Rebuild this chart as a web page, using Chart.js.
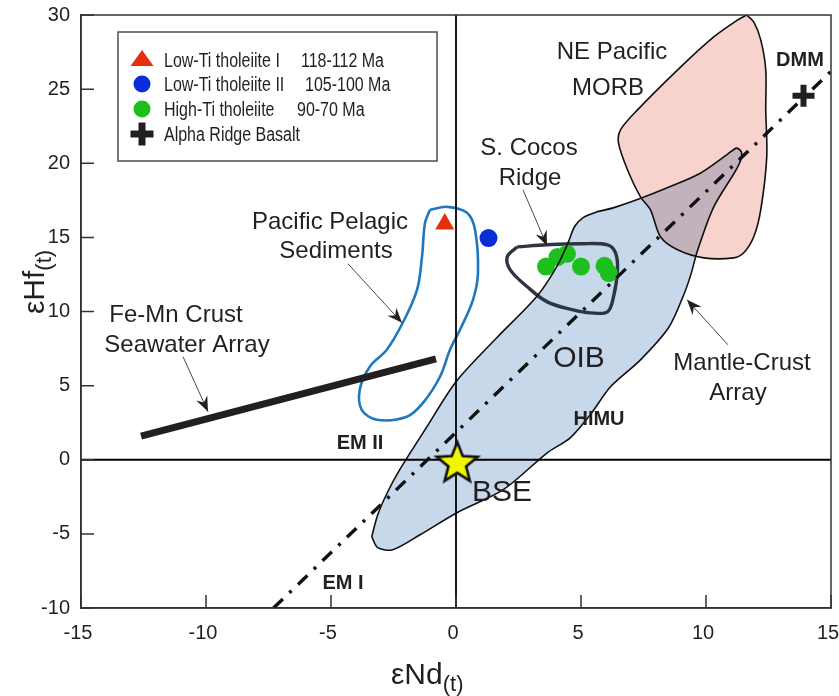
<!DOCTYPE html>
<html>
<head>
<meta charset="utf-8">
<script src="https://cdn.jsdelivr.net/npm/chart.js@4/dist/chart.umd.min.js"></script>
<style>
  html, body { margin: 0; padding: 0; background: #fff; }
  #wrap { width: 839px; height: 696px; }
</style>
</head>
<body>
<div id="wrap"><canvas id="c" width="839" height="696"></canvas></div>
<script>
// ---- axis ranges ----
const X_MIN = -15, X_MAX = 15, Y_MIN = -10, Y_MAX = 30, TICK_STEP = 5;

// ---- field outlines (eNd, eHf) ----
const oibField = [[-3.37,-5.19],[-3.13,-3.71],[-2.73,-2.16],[-2.25,-0.67],[-1.16,2.23],[0.0,5.26],[1.63,8.23],[3.23,11.01],[4.03,13.03],[4.48,14.63],[4.75,15.75],[5.1,16.35],[5.6,16.7],[6.29,16.99],[7.23,17.53],[8.57,18.43],[9.77,19.33],[10.83,20.57],[11.23,21.02],[11.43,20.68],[11.27,19.76],[10.31,17.06],[9.67,14.16],[9.39,12.47],[9.11,11.13],[8.50,8.90],[7.38,6.74],[6.18,4.92],[5.37,3.03],[4.57,1.48],[3.65,0.47],[1.89,-2.02],[0.04,-3.57],[-1.44,-5.06],[-2.53,-6.07],[-3.13,-5.93]];
const morbField = [[11.63,30.0],[11.91,29.53],[12.19,28.32],[12.39,26.30],[12.39,23.60],[12.43,20.43],[12.19,16.86],[11.91,15.04],[11.51,13.96],[11.11,13.62],[9.91,13.62],[8.86,14.16],[8.18,15.04],[7.78,16.86],[7.38,17.73],[6.86,19.56],[6.50,21.38],[6.58,22.25],[7.26,23.60],[8.99,26.50],[10.31,28.52],[11.27,29.67]];
const pelagicField = [[-1.04,16.86],[-0.36,17.06],[0.44,16.66],[0.76,15.51],[0.88,12.61],[0.68,10.79],[0.16,8.77],[-0.24,7.42],[-0.64,5.60],[-1.32,3.84],[-1.97,2.90],[-3.17,2.70],[-3.77,3.37],[-3.85,4.72],[-3.45,6.27],[-2.77,7.42],[-2.13,9.24],[-1.56,11.46],[-1.36,13.69],[-1.24,15.98]];
const cocosField = [[2.45,14.36],[3.65,14.50],[4.97,14.57],[6.06,14.50],[6.38,13.96],[6.46,12.81],[6.30,10.99],[6.06,9.98],[5.38,9.91],[4.69,10.11],[3.65,10.65],[2.85,11.67],[2.17,12.81],[2.05,13.69]];

// ---- reference arrays ----
const mantleCrustArray = [[-7.3,-10],[15,26.2]];
const feMnCrustArray = [[-12.6,1.6],[-0.8,6.8]];

// ---- samples ----
const lowTiI = [[-0.45,15.9]];
const lowTiII = [[1.3,14.95]];
const highTi = [[3.6,13.03],[4.06,13.67],[4.44,13.89],[5.0,13.03],[5.94,13.08],[6.11,12.59]];
const alphaRidge = [[13.9,24.55]];
const bse = [[0.05,-0.15]];

// ---- legend ----
const legendNames = ['Low-Ti tholeiite I', 'Low-Ti tholeiite II', 'High-Ti tholeiite', 'Alpha Ridge Basalt'];
const legendAges = ['118-112 Ma', '105-100 Ma', '90-70 Ma', ''];

// ---- field labels: text, eNd, eHf, style ----
const fieldLabels = [
  ['NE Pacific', 6.24, 27.0, 'big'], ['MORB', 6.08, 24.6, 'big'],
  ['DMM', 13.76, 26.57, 'bold'],
  ['S. Cocos', 2.92, 20.57, 'big'], ['Ridge', 2.96, 18.54, 'big'],
  ['Pacific Pelagic', -5.04, 15.58, 'big'], ['Sediments', -4.8, 13.62, 'big'],
  ['Fe-Mn Crust', -11.2, 9.3, 'big'], ['Seawater Array', -10.76, 7.28, 'big'],
  ['OIB', 4.92, 6.27, 'huge'], ['HIMU', 5.72, 2.36, 'bold'],
  ['EM II', -3.84, 0.74, 'bold'], ['EM I', -4.52, -8.70, 'bold'],
  ['BSE', 0.64, -2.76, 'hugeLeft'],
  ['Mantle-Crust', 11.44, 6.07, 'big'], ['Array', 11.28, 4.05, 'big']
];
// pointer arrows: from (eNd, eHf) to tip (eNd, eHf)
const pointerArrows = [
  [-4.32, 13.22, -2.16, 9.24],
  [-10.92, 6.95, -9.92, 3.24],
  [2.68, 18.21, 3.64, 14.43],
  [10.88, 7.75, 9.24, 10.79]
];

const pts = a => a.map(p => ({x: p[0], y: p[1]}));
const closed = a => pts(a.concat([a[0]]));

const SANS = '"Liberation Sans", Arial, sans-serif';
const INK = '#231f20';

// filled star used for the BSE marker
function starCanvas(rOut, rIn, fill, stroke, lw) {
  const size = Math.ceil(2 * rOut + lw * 2 + 2);
  const cv = document.createElement('canvas');
  cv.width = size; cv.height = size;
  const g = cv.getContext('2d');
  g.translate(size / 2, size / 2 + 1.5);
  g.beginPath();
  for (let i = 0; i < 10; i++) {
    const r = i % 2 ? rIn : rOut;
    const a = -Math.PI / 2 + i * Math.PI / 5;
    g.lineTo(r * Math.cos(a), r * Math.sin(a));
  }
  g.closePath();
  g.fillStyle = fill; g.fill();
  g.lineJoin = 'miter'; g.lineWidth = lw; g.strokeStyle = stroke; g.stroke();
  return cv;
}
const bseStar = starCanvas(21.5, 9.3, '#f0f500', '#111', 2.6);

// ---- datasets, listed bottom to top ----
const layers = [
  {role: 'oibFill', data: closed(oibField), showLine: true, fill: 'shape', backgroundColor: '#c7d8ea', borderWidth: 0, pointRadius: 0, tension: 0.3},
  {role: 'morbFill', data: closed(morbField), showLine: true, fill: 'shape', backgroundColor: '#f8d2cc', borderWidth: 0, pointRadius: 0, tension: 0.3},
  {data: closed(pelagicField), showLine: true, fill: false, borderColor: '#1f78bd', borderWidth: 2.6, pointRadius: 0, tension: 0.35},
  {data: closed(cocosField), showLine: true, fill: false, borderColor: '#2f3540', borderWidth: 3.4, pointRadius: 0, tension: 0.35},
  {data: pts(highTi), showLine: false, pointStyle: 'circle', pointRadius: 9, backgroundColor: '#1cbf1c', borderWidth: 0},
  {data: closed(oibField), showLine: true, fill: false, borderColor: '#111', borderWidth: 1.6, pointRadius: 0, tension: 0.3},
  {data: closed(morbField), showLine: true, fill: false, borderColor: '#111', borderWidth: 1.6, pointRadius: 0, tension: 0.3},
  {data: pts([[X_MIN, 0], [X_MAX, 0]]), showLine: true, fill: false, borderColor: '#000', borderWidth: 1.8, pointRadius: 0},
  {data: pts([[0, Y_MIN], [0, Y_MAX]]), showLine: true, fill: false, borderColor: '#000', borderWidth: 1.8, pointRadius: 0},
  {data: pts(mantleCrustArray), showLine: true, fill: false, borderColor: '#111', borderWidth: 3.4, borderDash: [13, 9, 3, 9], pointRadius: 0},
  {data: pts(feMnCrustArray), showLine: true, fill: false, borderColor: INK, borderWidth: 7, pointRadius: 0},
  {data: pts(lowTiI), showLine: false, pointStyle: 'triangle', pointRadius: 11, backgroundColor: '#e4300c', borderWidth: 0},
  {data: pts(lowTiII), showLine: false, pointStyle: 'circle', pointRadius: 9, backgroundColor: '#0b2dd8', borderWidth: 0},
  {data: pts(alphaRidge), showLine: false, pointStyle: 'cross', pointRadius: 11, borderColor: INK, borderWidth: 6},
  {data: pts(bse), showLine: false, pointStyle: bseStar, pointRadius: 12}
];
layers.forEach((d, i) => { d.order = layers.length - i; });

// the MORB field darkens the OIB field where they overlap
const blendPlugin = {
  id: 'blend',
  afterDatasetDraw(chart, args) {
    const role = chart.data.datasets[args.index].role;
    if (role === 'oibFill') chart.ctx.globalCompositeOperation = 'multiply';
    else if (role === 'morbFill') chart.ctx.globalCompositeOperation = 'source-over';
  }
};

function arrowHead(ctx, x0, y0, x1, y1) {
  const a = Math.atan2(y1 - y0, x1 - x0);
  const L = 15, W = 6, N = 5;
  ctx.save();
  ctx.translate(x1, y1); ctx.rotate(a);
  ctx.beginPath();
  ctx.moveTo(0, 0); ctx.lineTo(-L, -W); ctx.lineTo(-L + N, 0); ctx.lineTo(-L, W);
  ctx.closePath();
  ctx.fillStyle = INK; ctx.fill();
  ctx.restore();
}

const decorPlugin = {
  id: 'decor',
  afterDatasetsDraw(chart) {
    const {ctx, scales: {x, y}} = chart;
    ctx.save();
    // pointer arrows
    pointerArrows.forEach(([ax, ay, bx, by]) => {
      const x0 = x.getPixelForValue(ax), y0 = y.getPixelForValue(ay);
      const x1 = x.getPixelForValue(bx), y1 = y.getPixelForValue(by);
      ctx.beginPath(); ctx.moveTo(x0, y0); ctx.lineTo(x1, y1);
      ctx.strokeStyle = '#4a4a4a'; ctx.lineWidth = 1; ctx.stroke();
      arrowHead(ctx, x0, y0, x1, y1);
    });
    // field labels
    ctx.fillStyle = INK; ctx.textBaseline = 'alphabetic';
    fieldLabels.forEach(([t, vx, vy, s]) => {
      const px = x.getPixelForValue(vx), py = y.getPixelForValue(vy);
      ctx.textAlign = s === 'hugeLeft' ? 'left' : 'center';
      ctx.font = s === 'bold' ? 'bold 20px ' + SANS : (s === 'big' ? '24px ' + SANS : '30px ' + SANS);
      ctx.fillText(t, px, py);
    });
    ctx.restore();
  },
  afterDraw(chart) {
    const {ctx, chartArea: ca, scales: {x, y}} = chart;
    ctx.save();
    // frame top/right
    ctx.strokeStyle = '#333'; ctx.lineWidth = 1.5;
    ctx.strokeRect(ca.left, ca.top, ca.right - ca.left, ca.bottom - ca.top);
    // inward tick marks
    ctx.beginPath();
    x.ticks.forEach(t => { const px = x.getPixelForValue(t.value); ctx.moveTo(px, ca.bottom); ctx.lineTo(px, ca.bottom - 13); });
    y.ticks.forEach(t => { const py = y.getPixelForValue(t.value); ctx.moveTo(ca.left, py); ctx.lineTo(ca.left + 13, py); });
    ctx.stroke();

    // axis titles with subscript
    ctx.fillStyle = INK; ctx.textAlign = 'left'; ctx.textBaseline = 'alphabetic';
    const mainF = '30px ' + SANS, subF = '22px ' + SANS;
    ctx.font = mainF; const wN = ctx.measureText('\u03B5Nd').width;
    const xl = x.getPixelForValue(0) - 65;
    ctx.fillText('\u03B5Nd', xl, 684);
    ctx.font = subF; ctx.fillText('(t)', xl + wN, 691);

    ctx.save();
    ctx.translate(44, 314); ctx.rotate(-Math.PI / 2);
    ctx.font = mainF; const wH = ctx.measureText('\u03B5Hf').width;
    ctx.fillText('\u03B5Hf', 0, 0);
    ctx.font = subF; ctx.fillText('(t)', wH, 7);
    ctx.restore();

    // legend
    const L = ca.left + 37, T = ca.top + 17, W = 319, H = 129;
    ctx.fillStyle = '#fff'; ctx.fillRect(L, T, W, H);
    ctx.strokeStyle = '#4d4d4d'; ctx.lineWidth = 1.5; ctx.strokeRect(L, T, W, H);
    const mx = L + 24;
    const rows = [T + 28, T + 52, T + 77, T + 102];
    ctx.fillStyle = '#e4300c';
    ctx.beginPath(); ctx.moveTo(mx, rows[0] - 10); ctx.lineTo(mx + 11.5, rows[0] + 6); ctx.lineTo(mx - 11.5, rows[0] + 6); ctx.closePath(); ctx.fill();
    ctx.fillStyle = '#0b2dd8'; ctx.beginPath(); ctx.arc(mx, rows[1], 8.5, 0, Math.PI * 2); ctx.fill();
    ctx.fillStyle = '#1cbf1c'; ctx.beginPath(); ctx.arc(mx, rows[2], 8.5, 0, Math.PI * 2); ctx.fill();
    ctx.fillStyle = INK;
    ctx.fillRect(mx - 11.5, rows[3] - 3.5, 23, 7); ctx.fillRect(mx - 3.5, rows[3] - 11.5, 7, 23);
    // condensed legend lettering
    ctx.font = '19.5px ' + SANS;
    const ageX = [183, 187, 179, 0];
    const squeeze = 0.82;
    legendNames.forEach((n, i) => {
      ctx.save(); ctx.translate(L + 46, rows[i] + 7); ctx.scale(squeeze, 1); ctx.fillText(n, 0, 0); ctx.restore();
      if (legendAges[i]) {
        ctx.save(); ctx.translate(L + ageX[i], rows[i] + 7); ctx.scale(squeeze, 1); ctx.fillText(legendAges[i], 0, 0); ctx.restore();
      }
    });
    ctx.restore();
  }
};

new Chart(document.getElementById('c'), {
  type: 'scatter',
  data: {datasets: layers},
  options: {
    responsive: false,
    animation: false,
    events: [],
    devicePixelRatio: 1,
    layout: {autoPadding: false, padding: {left: 0, top: 15, right: 8, bottom: 0}},
    plugins: {legend: {display: false}, tooltip: {enabled: false}},
    scales: {
      x: {
        type: 'linear', min: X_MIN, max: X_MAX,
        grid: {display: false, drawTicks: false},
        border: {display: true, color: '#333', width: 1.5},
        ticks: {stepSize: TICK_STEP, color: INK, font: {family: SANS, size: 20}, padding: 13, labelOffset: -3, maxRotation: 0},
        afterFit: s => { s.height = 88; s.paddingLeft = 0; s.paddingRight = 0; }
      },
      y: {
        type: 'linear', min: Y_MIN, max: Y_MAX,
        grid: {display: false, drawTicks: false},
        border: {display: true, color: '#333', width: 1.5},
        ticks: {stepSize: TICK_STEP, color: INK, font: {family: SANS, size: 20}, padding: 11},
        afterFit: s => { s.width = 81; s.paddingTop = 0; s.paddingBottom = 0; }
      }
    }
  },
  plugins: [blendPlugin, decorPlugin]
});
</script>
</body>
</html>
